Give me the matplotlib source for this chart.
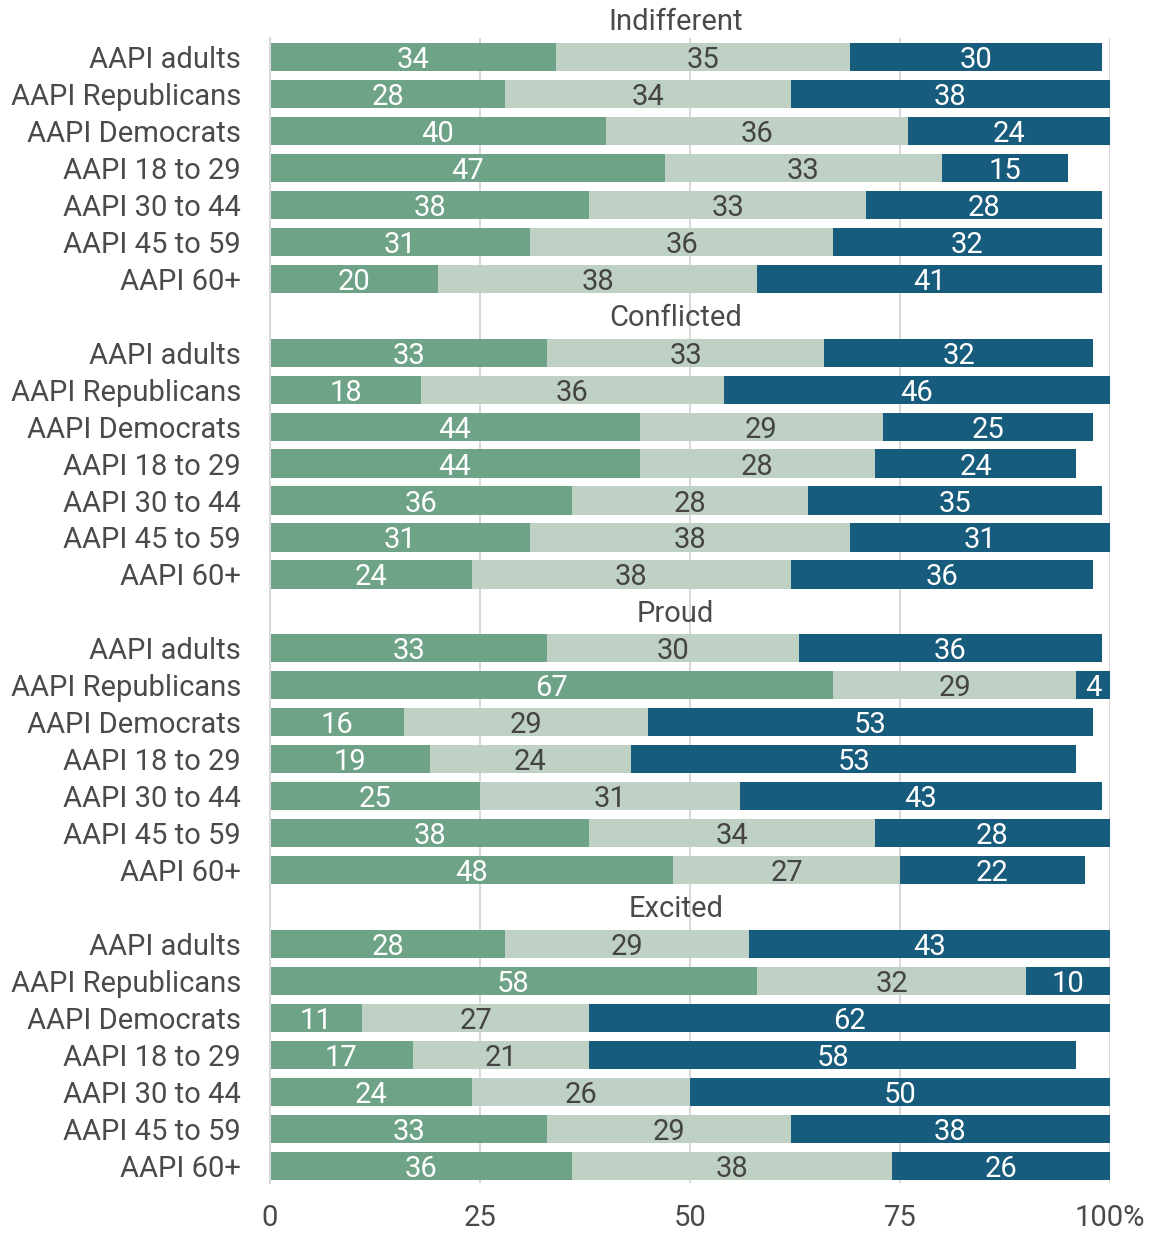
import matplotlib
matplotlib.use("Agg")
import matplotlib.pyplot as plt
import numpy as np

plt.rcParams['font.family'] = ['Roboto', 'DejaVu Sans']

panels = ["Indifferent", "Conflicted", "Proud", "Excited"]
groups = ["AAPI adults", "AAPI Republicans", "AAPI Democrats", "AAPI 18 to 29",
          "AAPI 30 to 44", "AAPI 45 to 59", "AAPI 60+"]

# three response segments per row, per panel
seg1 = {
    "Indifferent": [34, 28, 40, 47, 38, 31, 20],
    "Conflicted":  [33, 18, 44, 44, 36, 31, 24],
    "Proud":       [33, 67, 16, 19, 25, 38, 48],
    "Excited":     [28, 58, 11, 17, 24, 33, 36],
}
seg2 = {
    "Indifferent": [35, 34, 36, 33, 33, 36, 38],
    "Conflicted":  [33, 36, 29, 28, 28, 38, 38],
    "Proud":       [30, 29, 29, 24, 31, 34, 27],
    "Excited":     [29, 32, 27, 21, 26, 29, 38],
}
seg3 = {
    "Indifferent": [30, 38, 24, 15, 28, 32, 41],
    "Conflicted":  [32, 46, 25, 24, 35, 31, 36],
    "Proud":       [36, 4, 53, 53, 43, 28, 22],
    "Excited":     [43, 10, 62, 58, 50, 38, 26],
}
xticks = [0, 25, 50, 75, 100]
xticklabels = ["0", "25", "50", "75", "100%"]

colors = ["#6fa387", "#bfd0c4", "#175c7c"]
txtcolors = ["white", "#444444", "white"]
labcol = "#4a4a4a"
fs = 21

fig = plt.figure(figsize=(11.69, 12.34), dpi=100)
ax = fig.add_axes([270/1169, 1 - 1183/1234, 840/1169, (1183-38)/1234])

slot = 0
ytick_pos, ytick_lab = [], []
for p in panels:
    ax.text(0.483, slot - 0.02, p, transform=ax.get_yaxis_transform(), ha="center",
            va="center_baseline", fontsize=fs, color=labcol)
    slot += 1
    for i, g in enumerate(groups):
        left = 0
        for k, vals in enumerate([seg1[p], seg2[p], seg3[p]]):
            v = vals[i]
            ax.barh(slot, v, left=left, height=0.76, color=colors[k], zorder=2)
            ax.text(left + v/2, slot, str(v), ha="center", va="center_baseline",
                    fontsize=fs, color=txtcolors[k], zorder=3)
            left += v
        ytick_pos.append(slot)
        ytick_lab.append(g)
        slot += 1

ax.set_ylim(31.46, 0.49)
ax.set_xlim(0, 100)
ax.set_yticks(ytick_pos)
ax.set_yticklabels(ytick_lab, fontsize=fs, color=labcol, va="center_baseline")
ax.set_xticks(xticks)
ax.set_xticklabels(xticklabels, fontsize=fs, color=labcol)
ax.tick_params(axis="both", length=0)
ax.tick_params(axis="y", pad=21)
ax.tick_params(axis="x", pad=15)
ax.grid(axis="x", color="#d9d9d9", lw=1.5, zorder=0)
ax.set_axisbelow(True)
for s in ["top", "right", "bottom"]:
    ax.spines[s].set_visible(False)
ax.spines["left"].set_color("#d9d9d9")
ax.spines["left"].set_linewidth(1.5)

fig.savefig("out.png", dpi=100)
